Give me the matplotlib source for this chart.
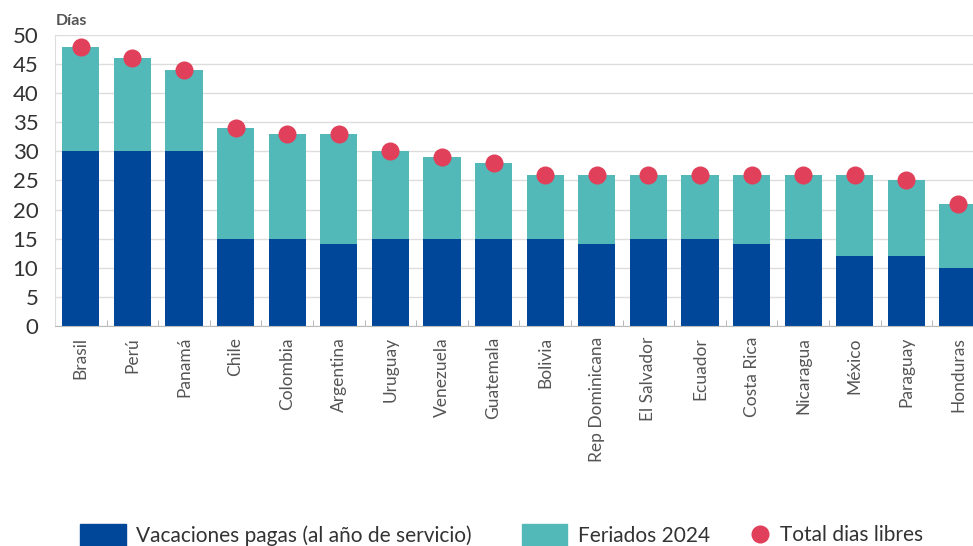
import numpy as np
import matplotlib
matplotlib.use('Agg')
import matplotlib.pyplot as plt
from matplotlib.patches import Patch
from matplotlib.lines import Line2D

plt.rcParams['font.family'] = ['Lato', 'DejaVu Sans']

# Data
paises = ['Brasil', 'Perú', 'Panamá', 'Chile', 'Colombia', 'Argentina', 'Uruguay',
          'Venezuela', 'Guatemala', 'Bolivia', 'Rep Dominicana', 'El Salvador',
          'Ecuador', 'Costa Rica', 'Nicaragua', 'México', 'Paraguay', 'Honduras']
vacaciones = [30, 30, 30, 15, 15, 14, 15, 15, 15, 15, 14, 15, 15, 14, 15, 12, 12, 10]
total = [48, 46, 44, 34, 33, 33, 30, 29, 28, 26, 26, 26, 26, 26, 26, 26, 25, 21]
feriados = [t - v for t, v in zip(total, vacaciones)]

azul = '#00479a'
turquesa = '#52b9b8'
rojo = '#e0405a'
gris = '#555555'

fig = plt.figure(figsize=(9.73, 5.46), dpi=100)
ax = fig.add_axes([0.0565, 0.403, 0.9435, 0.533])

x = np.arange(len(paises))
ax.bar(x, vacaciones, width=0.72, color=azul, zorder=2)
ax.bar(x, feriados, width=0.72, bottom=vacaciones, color=turquesa, zorder=2)
ax.plot(x, total, 'o', color=rojo, markersize=13, markeredgewidth=0, zorder=3, clip_on=False)

ax.set_xlim(-0.5, 17.29)
ax.set_ylim(0, 50)
ax.set_yticks(range(0, 51, 5))
ax.yaxis.grid(True, color='#dddddd', linewidth=1, zorder=0)
ax.set_axisbelow(True)

ax.set_xticks(x)
ax.set_xticklabels(paises, rotation=90, fontsize=12.5, color=gris)
ax.set_xticks(x[:-1] + 0.5, minor=True)
ax.tick_params(axis='x', which='major', length=0, pad=8)
ax.tick_params(axis='x', which='minor', length=4, color='#aaaaaa', direction='in')
ax.tick_params(axis='y', length=0, labelsize=16, labelcolor='#333333', pad=12)

for s in ['top', 'right']:
    ax.spines[s].set_visible(False)
ax.spines['left'].set_color('#dddddd')
ax.spines['bottom'].set_color('#bbbbbb')

fig.text(0.057, 0.955, 'Días', fontsize=11.5, color=gris, fontweight='bold')

# legend pieces placed separately to match the spacing of the original
leg_kw = dict(loc='center left', frameon=False, fontsize=15, borderpad=0,
              borderaxespad=0, handletextpad=0.5, labelcolor='#333333')
leg1 = fig.legend(handles=[Patch(color=azul, label='Vacaciones pagas (al año de servicio)')],
                  bbox_to_anchor=(0.082, 0.02), handlelength=2.2, handleheight=1.3, **leg_kw)
leg2 = fig.legend(handles=[Patch(color=turquesa, label='Feriados 2024')],
                  bbox_to_anchor=(0.536, 0.02), handlelength=2.2, handleheight=1.3, **leg_kw)
leg3 = fig.legend(handles=[Line2D([], [], marker='o', linestyle='', color=rojo, markersize=13,
                                  markeredgewidth=0, label='Total dias libres')],
                  bbox_to_anchor=(0.770, 0.02), handlelength=1.0, **leg_kw)

fig.savefig('out.png', dpi=100)
